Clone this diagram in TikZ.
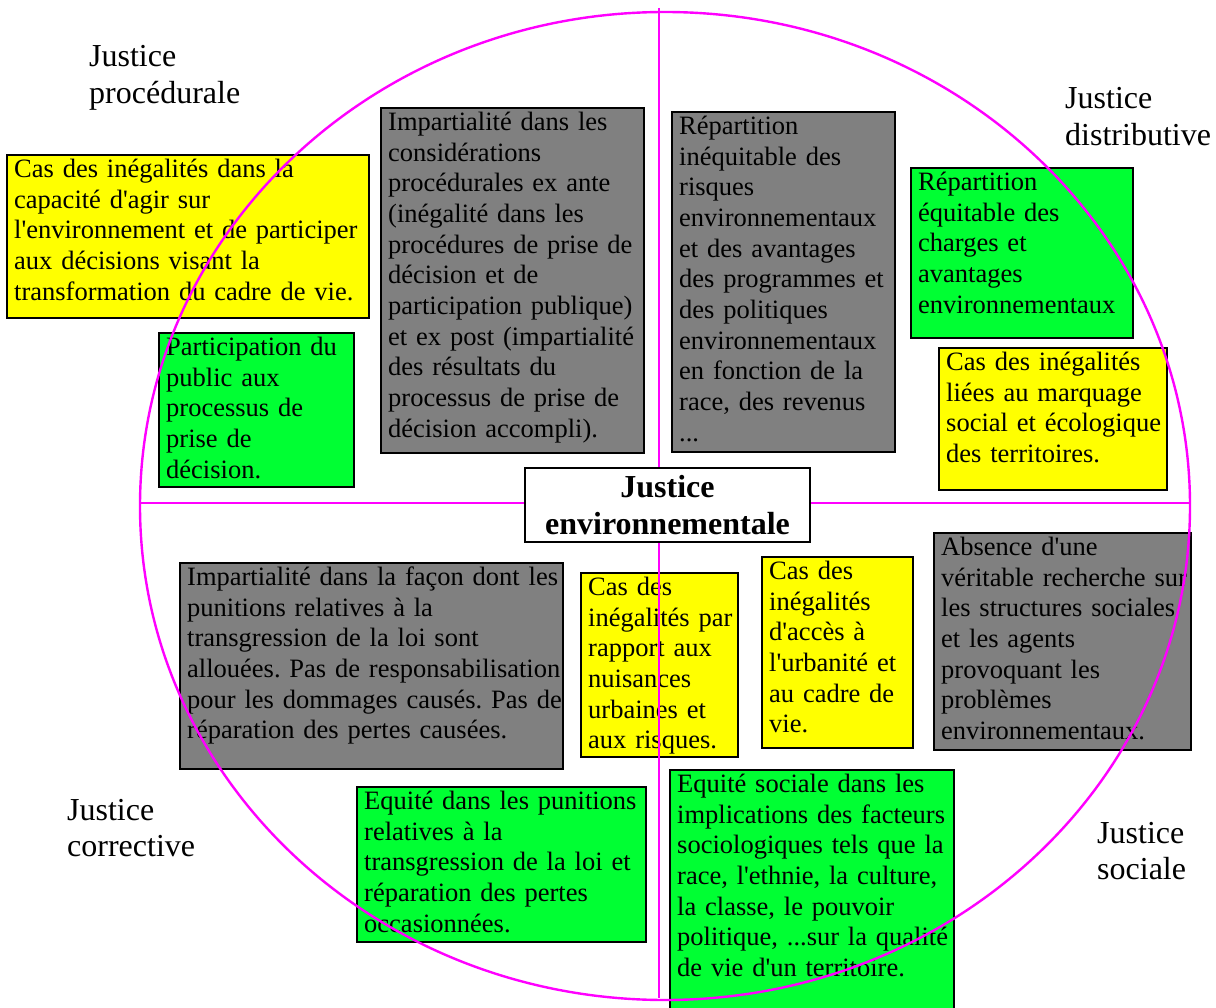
\documentclass[tikz,border=0pt]{standalone}
\usepackage{fontspec}
\setmainfont{Liberation Serif}
\newfontfamily\lib{Liberation Serif}
\frenchspacing
\hyphenpenalty=10000
\exhyphenpenalty=10000
\definecolor{boxyellow}{RGB}{255,255,0}
\definecolor{boxgreen}{RGB}{0,255,51}
\definecolor{boxgray}{RGB}{128,128,128}
\definecolor{ringmag}{RGB}{255,0,255}
\tikzset{
  ibox/.style={draw=black, line width=1.3pt, inner sep=0pt, outer sep=0pt},
  itext/.style={font=\lib\fontsize{26.5}{30.67}\selectfont, align=left, inner sep=0pt, anchor=base west},
  quarterlabel/.style={font=\lib\fontsize{32}{36.5}\selectfont, align=left, inner sep=0pt, text width=200pt, anchor=base west},
  ring/.style={draw=ringmag, line width=2.4pt},
  centerbox/.style={draw=black, fill=white, line width=1.3pt, font=\lib\bfseries\fontsize{32}{37}\selectfont, align=center, inner sep=0pt, minimum width=285pt, minimum height=74pt, text width=280pt},
}
% #1 name, #2 fill, #3 x1, #4 y1, #5 x2, #6 y2, #7 text
\newcommand\infobox[7]{%
  \pgfmathsetmacro\ibtw{#5-#3-7}%
  \node[ibox, fill=#2, anchor=north west, minimum width={(#5-#3)*1pt}, minimum height={(#6-#4)*1pt}] (#1) at (#3,#4) {};
  \node[itext, text width=\ibtw pt] (#1-t) at ([xshift=7pt,yshift=-22.5pt]#1.north west) {#7};
}
\begin{document}
\begin{tikzpicture}[x=1pt,y=-1pt]
\useasboundingbox (0,0) rectangle (1216,1008);
\fill[white] (0,0) rectangle (1216,1008);

% quarter labels
\node[quarterlabel] (lproc) at (89,67) {Justice\\procédurale};
\node[quarterlabel] (ldist) at (1065,109) {Justice\\distributive};
\node[quarterlabel] (lcorr) at (67,820) {Justice\\corrective};
\node[quarterlabel] (lsoc) at (1097,843) {Justice\\sociale};

% boxes
\infobox{b1}{boxyellow}{7}{155}{369}{318}{Cas des inégalités dans la\\capacité d'agir sur\\l'environnement et de participer\\aux décisions visant la\\transformation du cadre de vie.}
\infobox{b2}{boxgreen}{159}{333}{354}{487}{Participation du\\public aux\\processus de\\prise de\\décision.}
\infobox{b3}{boxgray}{381}{108}{644}{453}{Impartialité dans les\\considérations\\procédurales ex ante\\(inégalité dans les\\procédures de prise de\\décision et de\\participation publique)\\et ex post (impartialité\\des résultats du\\processus de prise de\\décision accompli).}
\infobox{b4}{boxgray}{672}{112}{895}{452}{Répartition\\inéquitable des\\risques\\environnementaux\\et des avantages\\des programmes et\\des politiques\\environnementaux\\en fonction de la\\race, des revenus\\...}
\infobox{b5}{boxgreen}{911}{168}{1133}{338}{Répartition\\équitable des\\charges et\\avantages\\environnementaux}
\infobox{b6}{boxyellow}{939}{348}{1167}{490}{Cas des inégalités\\liées au marquage\\social et écologique\\des territoires.}
\infobox{b7}{boxgray}{180}{563}{563}{769}{Impartialité dans la façon dont les\\punitions relatives à la\\transgression de la loi sont\\allouées. Pas de responsabilisation\\pour les dommages causés. Pas de\\réparation des pertes causées.}
\infobox{b8}{boxyellow}{581}{573}{738}{757}{Cas des\\inégalités par\\rapport aux\\nuisances\\urbaines et\\aux risques.}
\infobox{b9}{boxyellow}{762}{557}{913}{748}{Cas des\\inégalités\\d'accès à\\l'urbanité et\\au cadre de\\vie.}
\infobox{b10}{boxgray}{934}{533}{1191}{750}{Absence d'une\\véritable recherche sur\\les structures sociales\\et les agents\\provoquant les\\problèmes\\environnementaux.}
\infobox{b11}{boxgreen}{357}{787}{646}{942}{Equité dans les punitions\\relatives à la\\transgression de la loi et\\réparation des pertes\\occasionnées.}
\infobox{b12}{boxgreen}{670}{770}{954}{1015}{Equité sociale dans les\\implications des facteurs\\sociologiques tels que la\\race, l'ethnie, la culture,\\la classe, le pouvoir\\politique, ...sur la qualité\\de vie d'un territoire.}

% ring and cross
\coordinate (ctr) at (665,506);
\coordinate (ctop) at (659,8);
\coordinate (cbot) at (659,998);
\coordinate (cleft) at (140,503);
\coordinate (cright) at (1190,503);
\draw[ring] (ctr) ellipse [x radius=525, y radius=494];
\draw[ring] (ctop) -- (cbot);
\draw[ring] (cleft) -- (cright);

% centre
\node[centerbox] (centre) at (667.5,505) {Justice\\environnementale};
\end{tikzpicture}
\end{document}
